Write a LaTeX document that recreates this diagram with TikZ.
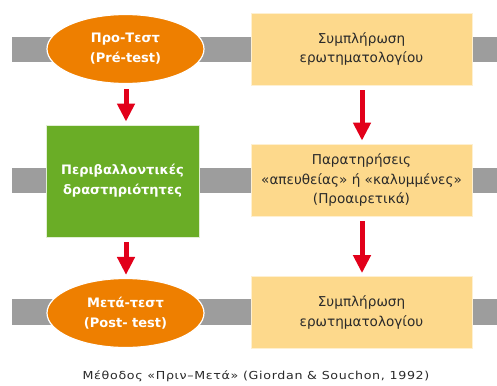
\documentclass[tikz,border=0pt]{standalone}
\usepackage{fontspec}
\setmainfont{DejaVu Sans}
\newfontfamily\capfont[FakeStretch=1.15,LetterSpace=6]{DejaVu Sans}
\usetikzlibrary{shapes.geometric,arrows.meta}
\definecolor{bargray}{HTML}{9D9D9D}
\definecolor{orng}{HTML}{EE7F00}
\definecolor{grn}{HTML}{6AAD26}
\definecolor{ylw}{HTML}{FDD98C}
\definecolor{arrred}{HTML}{E2001A}
\definecolor{txtdark}{HTML}{2A2A2A}
\tikzset{
  bar/.style={fill=bargray,draw=none},
  testnode/.style={ellipse,fill=orng,draw=white,line width=1.2pt,minimum width=157pt,minimum height=69pt,inner sep=0pt,
    text=white,font=\fontsize{13}{20}\selectfont\bfseries,align=center},
  actnode/.style={rectangle,fill=grn,draw=white!80!grn,line width=0.8pt,minimum width=153pt,minimum height=112pt,inner sep=0pt,
    text=white,font=\fontsize{13}{20}\selectfont\bfseries,align=center},
  qnode/.style={rectangle,fill=ylw,draw=white!60!ylw,line width=0.8pt,minimum width=221pt,minimum height=72pt,inner sep=0pt,
    text=txtdark,font=\fontsize{13.6}{19.5}\selectfont,align=center},
  flow/.style={draw=arrred,line width=5pt,-{Triangle[width=17pt,length=18pt]},shorten <=5pt,shorten >=3pt},
  caption/.style={text=txtdark,font=\capfont\fontsize{11}{12}\selectfont,inner sep=0pt}
}
\begin{document}
\begin{tikzpicture}[x=1pt,y=-1pt]
\useasboundingbox[fill=white] (0,0) rectangle (497,385);
% bars
\fill[bar] (12,37) rectangle (497,62);
\fill[bar] (12,168) rectangle (497,193);
\fill[bar] (12,299) rectangle (497,325);
% nodes
\node[testnode] (pre) at (125.5,49) {Προ-Τεστ\\(Pré-test)};
\node[qnode] (q1) at (361.5,49) {Συμπλήρωση\\ερωτηματολογίου};
\node[actnode] (act) at (122.5,181) {Περιβαλλοντικές\\δραστηριότητες};
\node[qnode] (obs) at (361.5,180) {Παρατηρήσεις\\«απευθείας» ή «καλυμμένες»\\(Προαιρετικά)};
\node[testnode] (post) at (125.5,313) {Μετά-τεστ\\(Post- test)};
\node[qnode] (q2) at (361.5,312.5) {Συμπλήρωση\\ερωτηματολογίου};
\node[caption] (cap) at (256,376) {Μέθοδος «Πριν–Μετά» (Giordan \& Souchon, 1992)};
% arrows
\draw[flow] (pre.south -| 126,0) -- (act.north -| 126,0);
\draw[flow] (act.south -| 126,0) -- (post.north -| 126,0);
\draw[flow] (q1.south -| 362,0) -- (obs.north -| 362,0);
\draw[flow] (obs.south -| 362,0) -- (q2.north -| 362,0);
\end{tikzpicture}
\end{document}
